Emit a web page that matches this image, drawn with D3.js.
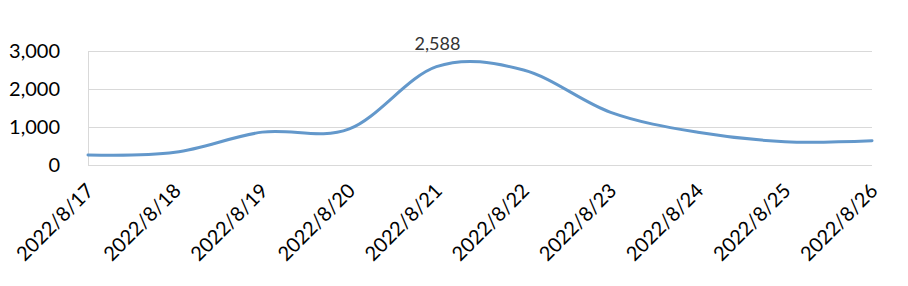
<!DOCTYPE html>
<html>
<head>
<meta charset="utf-8">
<script src="https://cdn.jsdelivr.net/npm/d3@7"></script>
<style>
  body { margin: 0; background: #fff; }
  svg { display: block; }
</style>
</head>
<body>
<div id="chart"></div>
<script>
// data
const dates = ['2022/8/17', '2022/8/18', '2022/8/19', '2022/8/20', '2022/8/21',
  '2022/8/22', '2022/8/23', '2022/8/24', '2022/8/25', '2022/8/26']
const values = [263, 333, 865, 950, 2588, 2500, 1385, 860, 615, 640]
const yTicks = [0, 1000, 2000, 3000]
const labelled = ['2022/8/21']

const width = 908
const height = 286
const margin = { top: 51, right: 36, bottom: 121, left: 88 }

const svg = d3.select('#chart')
  .append('svg')
  .attr('width', width)
  .attr('height', height)
  .style('font-family', 'Lato, "Open Sans", sans-serif')

const x = d3.scalePoint()
  .domain(dates)
  .range([margin.left, width - margin.right])

const y = d3.scaleLinear()
  .domain([0, 3000])
  .range([height - margin.bottom, margin.top])

// gridlines
svg.append('g')
  .selectAll('line')
  .data(yTicks)
  .join('line')
  .attr('x1', margin.left).attr('x2', width - margin.right)
  .attr('y1', d => y(d) + 0.5).attr('y2', d => y(d) + 0.5)
  .attr('stroke', '#d9d9d9').attr('stroke-width', 1)

// left axis line
svg.append('line')
  .attr('x1', margin.left + 0.5).attr('x2', margin.left + 0.5)
  .attr('y1', y(3000)).attr('y2', y(0))
  .attr('stroke', '#d9d9d9')

// y labels
svg.append('g')
  .selectAll('text')
  .data(yTicks)
  .join('text')
  .attr('x', 60)
  .attr('y', d => y(d))
  .attr('dy', '0.36em')
  .attr('text-anchor', 'end')
  .attr('font-size', '20px')
  .attr('fill', '#000')
  .text(d3.format(','))

// x labels, rotated
svg.append('g')
  .selectAll('text')
  .data(dates)
  .join('text')
  .attr('transform', d => `translate(${x(d) + 7}, 192) rotate(-45)`)
  .attr('text-anchor', 'end')
  .attr('font-size', '20px')
  .attr('fill', '#000')
  .text(d => d)

// smoothed line
const line = d3.line()
  .x((d, i) => x(dates[i]))
  .y(d => y(d))
  .curve(d3.curveCardinal.tension(0))

svg.append('path')
  .datum(values)
  .attr('d', line)
  .attr('fill', 'none')
  .attr('stroke', '#6398cb')
  .attr('stroke-width', 3)
  .attr('stroke-linecap', 'round')

// data label
svg.append('g')
  .selectAll('text')
  .data(labelled)
  .join('text')
  .attr('x', d => x(d) + 1)
  .attr('y', d => y(values[dates.indexOf(d)]) - 17)
  .attr('text-anchor', 'middle')
  .attr('font-size', '18px')
  .attr('fill', '#333')
  .text(d => d3.format(',')(values[dates.indexOf(d)]))
</script>
</body>
</html>
